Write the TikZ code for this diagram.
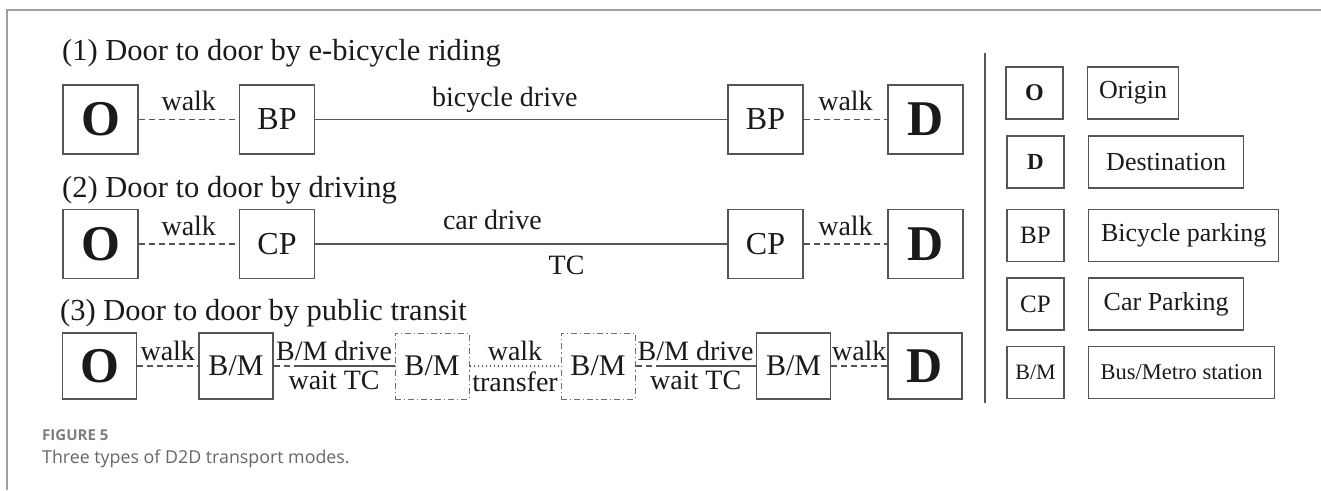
\documentclass[tikz,border=0pt]{standalone}
\usepackage{fontspec}
\setmainfont{Liberation Serif}
\newfontfamily\capfont{Open Sans}
\usetikzlibrary{positioning}

\definecolor{inkblack}{HTML}{1A1A1A}
\definecolor{linegray}{HTML}{555555}
\definecolor{framegray}{HTML}{A0A0A0}
\definecolor{capgray}{HTML}{666666}

\tikzset{
  place/.style={draw=linegray, line width=1.3pt, minimum width=75pt, minimum height=69pt,
    inner sep=0pt, text=inkblack, font=\fontsize{32}{36}\selectfont},
  endplace/.style={place, font=\fontsize{50}{50}\selectfont\bfseries},
  hub/.style={place, minimum width=74pt, minimum height=66pt, font=\fontsize{30}{34}\selectfont},
  endhub/.style={hub, font=\fontsize{50}{50}\selectfont\bfseries},
  transferhub/.style={hub, draw=linegray!85, line width=1pt, dash pattern=on 6pt off 3pt on 1.2pt off 3pt},
  walkline/.style={draw=linegray, line width=1.2pt, dash pattern=on 6pt off 4pt},
  rideline/.style={draw=linegray, line width=1.5pt},
  dotline/.style={draw=linegray, line width=1.2pt, dash pattern=on 1.5pt off 2.5pt},
  tag/.style={font=\fontsize{28}{30}\selectfont, text=inkblack, inner sep=1pt},
  heading/.style={font=\fontsize{30.5}{34}\selectfont, text=inkblack, anchor=base west, inner sep=0pt},
  keyplace/.style={draw=linegray, line width=1.3pt, minimum width=57pt, minimum height=52pt,
    inner sep=0pt, text=inkblack, font=\fontsize{25}{28}\selectfont},
  keytext/.style={draw=linegray, line width=1.3pt, minimum height=52pt, anchor=west,
    inner sep=0pt, text=inkblack, font=\fontsize{26}{28}\selectfont},
}

\begin{document}
\begin{tikzpicture}[x=1pt, y=-1pt]
            \useasboundingbox (0,0) rectangle (1321,490);
            \draw[framegray, line width=1.5pt] (7,490) -- (7,10) -- (1321,10);

            % Headings
            \node[heading] (title1) at (62,60) {(1) Door to door by e-bicycle riding};
            \node[heading] (title2) at (62,197) {(2) Door to door by driving};
            \node[heading] (title3) at (60,320) {(3) Door to door by public transit};

            % Nodes (1)
            \node[endplace] (origin1) at (100.5,119.5) {O};
            \node[place, right of=origin1, node distance=176.5pt] (bp1) {BP};
            \node[place, right of=bp1, node distance=488.5pt] (bp2) {BP};
            \node[endplace, right of=bp2, node distance=160pt] (dest1) {D};

            % Nodes (2)
            \node[endplace] (origin2) at (100.5,244) {O};
            \node[place, right of=origin2, node distance=176.5pt] (cp1) {CP};
            \node[place, right of=cp1, node distance=488.5pt] (cp2) {CP};
            \node[endplace, right of=cp2, node distance=160pt] (dest2) {D};

            % Nodes (3)
            \node[endhub] (origin3) at (99.5,366) {O};
            \node[hub, right of=origin3, node distance=136.5pt] (bm1) {B/M};
            \node[transferhub, right of=bm1, node distance=196pt] (bm2) {B/M};
            \node[transferhub, right of=bm2, node distance=166pt] (bm3) {B/M};
            \node[hub, right of=bm3, node distance=195.5pt] (bm4) {B/M};
            \node[endhub, right of=bm4, node distance=131.5pt] (dest3) {D};

            % Lines (1)
            \draw[walkline] (origin1) -- node[tag, above=7pt] {walk} (bp1);
            \draw[rideline] (bp1) -- node[tag, above=5pt, pos=0.46] {bicycle drive} (bp2);
            \draw[walkline] (bp2) -- node[tag, above=7pt] {walk} (dest1);

            % Lines (2)
            \draw[walkline] (origin2) -- node[tag, above=7pt] {walk} (cp1);
            \draw[rideline] (cp1) -- node[tag, above=12pt, pos=0.43] {car drive}
                                   node[tag, below=10pt, pos=0.61] {TC} (cp2);
            \draw[walkline] (cp2) -- node[tag, above=7pt] {walk} (dest2);

            % Lines (3)
            \draw[walkline] (origin3) -- node[tag, above=4pt] {walk} (bm1);
            \draw[walkline] (bm1.east) -- ++(24,0) coordinate (wait1);
            \draw[rideline] (wait1) -- (bm2);
            \path (bm1) -- node[tag, above=4pt] {B/M drive} node[tag, below=4pt] {wait TC} (bm2);
            \draw[dotline] (bm2) -- node[tag, above=4pt] {walk} node[tag, below=4pt] {transfer} (bm3);
            \draw[walkline] (bm3.east) -- ++(25,0) coordinate (wait2);
            \draw[rideline] (wait2) -- (bm4);
            \path (bm3) -- node[tag, above=4pt] {B/M drive} node[tag, below=4pt] {wait TC} (bm4);
            \draw[walkline] (bm4) -- node[tag, above=4pt] {walk} (dest3);

            % Legend
            \draw[linegray, line width=2pt] (985,53) -- (985,403);
            \node[keyplace, font=\fontsize{24}{28}\selectfont\bfseries] (keyo) at (1034.5,93) {O};
            \node[keytext, minimum width=91pt] (keyorigin) at (1087,93) {Origin};
            \node[keyplace, font=\fontsize{23}{28}\selectfont\bfseries] (keyd) at (1035.5,162) {D};
            \node[keytext, minimum width=155pt] (keydest) at (1088,162) {Destination};
            \node[keyplace] (keybp) at (1035.5,235.5) {BP};
            \node[keytext, minimum width=190pt] (keybike) at (1088,235.5) {Bicycle parking};
            \node[keyplace] (keycp) at (1035.5,304) {CP};
            \node[keytext, minimum width=155pt] (keycar) at (1088,304) {Car Parking};
            \node[keyplace, font=\fontsize{22}{26}\selectfont] (keybm) at (1035.5,372.5) {B/M};
            \node[keytext, minimum width=186pt, font=\fontsize{22.5}{26}\selectfont] (keystation) at (1088,372.5) {Bus/Metro station};

            % Caption
            \node[anchor=base west, inner sep=0pt, text=capgray!85, font=\capfont\fontsize{15}{18}\selectfont\bfseries] (figno) at (42,440) {FIGURE 5};
            \node[anchor=base west, inner sep=0pt, text=capgray, font=\capfont\fontsize{17.8}{20}\selectfont] (figcap) at (42,463) {Three types of D2D transport modes.};
        \end{tikzpicture}
\end{document}
